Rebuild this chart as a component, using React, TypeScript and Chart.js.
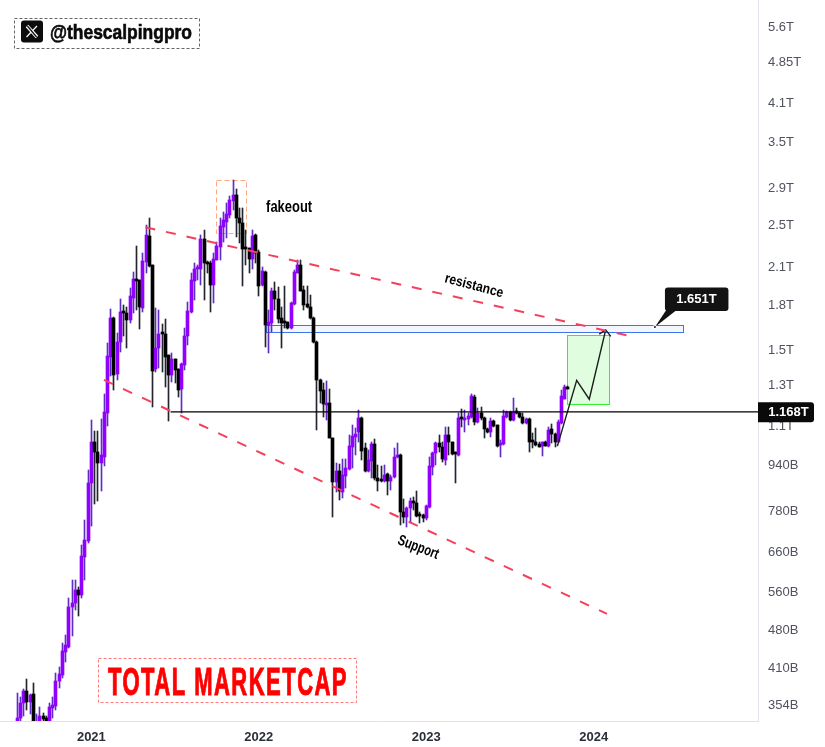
import {useEffect, useRef} from "react";
import Chart from "chart.js/auto";

// weekly candles of the total market cap, in billions
const opens = [
  327,336,357,375,359,370,322,325,339,336,
  328,350,353,390,400,440,448,527,536,566,
  553,648,691,873,1032,993,950,973,1164,1463,
  1712,1363,1550,1755,1747,1698,1860,2004,1999,1783,
  2148,2392,2120,1392,1513,1610,1604,1472,1358,1447,
  1392,1282,1414,1590,1757,1991,2088,2090,2360,2143,
  2140,1955,2168,2288,2483,2535,2608,2757,2825,2572,
  2520,2272,2272,2177,2400,2236,1960,2068,1664,1680,
  1911,1847,1710,1682,1682,1644,1812,2060,2120,1919,
  1812,1793,1710,1555,1330,1277,1201,1210,1049,877,
  918,844,901,925,1014,1056,1076,1140,1007,918,
  957,1025,891,885,881,906,881,895,972,980,
  778,760,790,812,806,768,768,757,793,934,
  987,1029,1012,960,1063,1032,987,980,1140,1130,
  1135,1143,1242,1121,1164,1140,1089,1078,1124,1106,
  1021,1025,1145,1166,1130,1169,1164,1145,1117,1133,
  1042,1034,1025,1017,1034,1018,1091,1068,1035,1117,
  1231,1294,
];
const highs = [
  372,365,378,393,370,387,341,351,342,339,
  357,366,403,413,456,470,547,590,589,572,
  680,752,922,1130,1081,1081,1135,1257,1544,1775,
  1720,1610,1853,1805,1793,1932,2068,2298,1999,2231,
  2500,2572,2125,1780,1769,1672,1703,1472,1487,1450,
  1392,1425,1644,1830,2054,2140,2125,2400,2450,2160,
  2155,2231,2336,2575,2640,2730,2812,3003,2892,2675,
  2675,2450,2280,2450,2410,2258,2110,2072,1769,1932,
  1984,1940,1793,1947,1686,1830,2082,2168,2168,1947,
  1947,1880,1720,1560,1335,1313,1326,1281,1052,947,
  944,963,963,1063,1107,1092,1177,1145,1028,1000,
  1035,1045,941,938,941,912,903,1007,1028,985,
  818,792,824,827,847,778,770,799,973,993,
  1035,1063,1035,1098,1098,1035,990,1164,1180,1177,
  1162,1257,1252,1185,1193,1143,1092,1138,1130,1108,
  1042,1177,1174,1174,1235,1185,1169,1162,1141,1138,
  1072,1095,1031,1035,1036,1098,1113,1072,1130,1277,
  1305,1297,
];
const lows = [
  318,330,339,347,341,316,310,315,325,322,
  324,336,347,380,395,421,446,468,522,509,
  548,590,685,733,802,813,847,937,1103,1349,
  1277,1330,1493,1590,1513,1680,1747,1769,1637,1757,
  2060,2110,1193,1376,1398,1373,1295,1127,1321,1313,
  1243,1162,1386,1535,1750,1842,1999,1960,1842,2054,
  1757,1820,2168,2168,2336,2370,2572,2658,2384,2320,
  1947,2125,2054,2090,2140,1872,1947,1524,1487,1620,
  1769,1676,1513,1642,1636,1636,1805,2054,1910,1769,
  1783,1706,1544,1085,1211,1145,1130,1049,762,844,
  816,822,856,922,928,980,1035,960,915,916,
  891,885,846,879,879,833,850,891,967,737,
  742,730,742,783,762,743,746,752,790,903,
  941,993,953,941,980,980,873,977,1098,1074,
  1107,1138,1107,1117,1130,1049,1072,1056,1100,1014,
  973,1021,1138,1126,1125,1158,1138,1113,1113,993,
  1007,1017,1012,976,1016,1014,1028,1014,1031,1111,
  1229,1282,
];
const closes = [
  336,357,375,359,368,325,326,339,334,328,
  351,354,391,401,441,452,528,536,566,553,
  650,693,873,1032,993,950,979,1168,1467,1712,
  1358,1555,1755,1745,1698,1872,2004,1994,1788,2160,
  2400,2116,1382,1513,1604,1601,1459,1358,1447,1386,
  1277,1419,1592,1762,1999,2090,2095,2360,2143,2132,
  1955,2174,2294,2490,2552,2612,2768,2825,2575,2520,
  2264,2264,2177,2392,2231,1952,2074,1664,1686,1911,
  1847,1705,1676,1676,1644,1816,2068,2125,1914,1805,
  1788,1710,1550,1330,1273,1205,1210,1052,879,918,
  846,903,928,1017,1059,1068,1140,997,918,960,
  1025,891,881,881,903,881,897,972,977,778,
  762,790,811,806,765,765,757,795,937,987,
  1029,1012,964,1063,1032,984,983,1140,1133,1137,
  1149,1245,1121,1164,1138,1088,1078,1124,1103,1017,
  1028,1149,1166,1130,1169,1162,1143,1117,1133,1035,
  1031,1020,1014,1034,1018,1085,1066,1035,1120,1247,
  1294,1284,
];

const yearWeeks = [23, 75, 127, 179];
const yearLabels = ["2021", "2022", "2023", "2024"];
const priceTicks = [5600, 4850, 4100, 3500, 2900, 2500, 2100, 1800, 1500, 1300, 1100, 940, 780, 660, 560, 480, 410, 354];

// drawn lines, as [week, value]
const resistanceLine = [[39.8, 2477], [189.5, 1594]];
const supportLine = [[26.9, 1330], [183.1, 513]];
const levelLine = [[47.6, 1168], [230, 1168]];
const projectionLine = [[167.7, 1016], [173.7, 1328], [177.6, 1230], [182.7, 1631]];
const arrowHead = [[180.7, 1603], [182.7, 1631], [184.3, 1588]];

// boxes: week from, week to, value top, value bottom
const zones = [
  {x0: 77.2, x1: 206.8, top: 1662, bottom: 1616, stroke: "#3f74ee", fill: "rgba(225,232,255,0.4)", dash: []},
  {x0: 170.8, x1: 183.9, top: 1596, bottom: 1205, stroke: "#33ee33", fill: "#e0fde0", dash: []},
  {x0: 61.8, x1: 71.2, top: 3003, bottom: 2417, stroke: "#ffa87f", fill: "transparent", dash: [5, 3]},
];

const notes = [
  {text: "fakeout", week: 84.4, value: 2680, angle: 0, width: 46, size: 16},
  {text: "resistance", week: 141.8, value: 1950, angle: 0.26, width: 60, size: 14},
  {text: "Support", week: 124.5, value: 672, angle: 0.365, width: 43, size: 15},
];

const calloutWeek = 198;
const calloutValue = 1651;
const calloutText = "1.651T";
const levelValue = 1168;
const levelText = "1.168T";

const UP = "#9100ff";
const DOWN = "#000000";
const UP_WICK = "#5f2cc4";
const DOWN_WICK = "#23262f";
const SANS = '"Liberation Sans", Arial, sans-serif';

const xy = (pts: number[][]) => pts.map(([x, y]) => ({x, y}));

const lineSet = (data: number[][], color: string, width: number, dash: number[] = []) => ({
  type: "line" as const,
  data: xy(data),
  borderColor: color,
  borderWidth: width,
  borderDash: dash,
  pointRadius: 0,
  tension: 0,
  fill: false,
  order: 0,
});

const roundBox = (ctx: CanvasRenderingContext2D, x: number, y: number, w: number, h: number, r: number | number[]) => {
  ctx.beginPath();
  ctx.roundRect(x, y, w, h, r);
  ctx.fill();
};

// snap candles to whole pixels so bodies stay solid instead of blurring
const snapPlugin = {
  id: "snap",
  afterDatasetsUpdate(chart: any) {
    chart.getSortedVisibleDatasetMetas().forEach((meta: any) => {
      if (meta.type !== "bar") return;
      meta.data.forEach((bar: any) => {
        bar.x = Math.floor(bar.x) + 0.5;
        bar.y = Math.round(bar.y);
        bar.base = Math.round(bar.base);
      });
    });
  },
};

// zones sit under the candles
const zonesPlugin = {
  id: "zones",
  beforeDatasetsDraw(chart: any) {
    const {ctx, scales} = chart;
    ctx.save();
    zones.forEach((z) => {
      const x = Math.round(scales.x.getPixelForValue(z.x0)) + 0.5;
      const y = Math.round(scales.y.getPixelForValue(z.top)) + 0.5;
      const w = Math.round(scales.x.getPixelForValue(z.x1) - x);
      const h = Math.round(scales.y.getPixelForValue(z.bottom) - y);
      ctx.fillStyle = z.fill;
      ctx.fillRect(x, y, w, h);
      ctx.strokeStyle = z.stroke;
      ctx.lineWidth = 1;
      ctx.setLineDash(z.dash);
      ctx.strokeRect(x, y, w, h);
    });
    ctx.restore();
  },
};

// text, callout and the two watermark boxes
const labelsPlugin = {
  id: "labels",
  afterDraw(chart: any) {
    const {ctx, scales} = chart;
    ctx.save();

    notes.forEach((n) => {
      ctx.save();
      ctx.translate(scales.x.getPixelForValue(n.week), scales.y.getPixelForValue(n.value));
      ctx.rotate(n.angle);
      ctx.font = `bold ${n.size}px ${SANS}`;
      ctx.fillStyle = "#000000";
      ctx.textAlign = "center";
      ctx.textBaseline = "middle";
      ctx.fillText(n.text, 0, 0, n.width);
      ctx.restore();
    });

    // 1.651T callout
    const tipX = scales.x.getPixelForValue(calloutWeek);
    const tipY = scales.y.getPixelForValue(calloutValue);
    ctx.fillStyle = "#131313";
    ctx.beginPath();
    ctx.moveTo(tipX, tipY);
    ctx.lineTo(tipX + 12, tipY - 18);
    ctx.lineTo(tipX + 23, tipY - 18);
    ctx.closePath();
    ctx.fill();
    roundBox(ctx, tipX + 10, tipY - 39.5, 63.5, 23.5, 3);
    ctx.fillStyle = "#ffffff";
    ctx.beginPath();
    ctx.arc(tipX, tipY, 2, 0, Math.PI * 2);
    ctx.fill();
    ctx.fillStyle = "#131313";
    ctx.beginPath();
    ctx.arc(tipX, tipY, 1, 0, Math.PI * 2);
    ctx.fill();
    ctx.fillStyle = "#ffffff";
    ctx.font = `bold 13px ${SANS}`;
    ctx.textAlign = "center";
    ctx.textBaseline = "middle";
    ctx.fillText(calloutText, tipX + 41.5, tipY - 27.5);

    // price label of the level line
    const levelY = scales.y.getPixelForValue(levelValue);
    ctx.fillStyle = "#0a0a0a";
    roundBox(ctx, 758, levelY - 9.5, 56, 20, [0, 3, 3, 0]);
    ctx.fillStyle = "#ffffff";
    ctx.fillText(levelText, 788.5, levelY + 0.5);

    // handle box
    ctx.strokeStyle = "#666666";
    ctx.lineWidth = 1;
    ctx.setLineDash([3, 2]);
    ctx.strokeRect(14.5, 18.5, 185, 30);
    ctx.setLineDash([]);
    ctx.fillStyle = "#0c0c0c";
    roundBox(ctx, 21, 20.5, 22, 22, 3);
    ctx.lineCap = "butt";
    ctx.strokeStyle = "#ffffff";
    ctx.lineWidth = 3.4;
    ctx.beginPath();
    ctx.moveTo(27, 26);
    ctx.lineTo(37, 37);
    ctx.stroke();
    ctx.lineWidth = 1.2;
    ctx.beginPath();
    ctx.moveTo(26.5, 37);
    ctx.lineTo(37, 26);
    ctx.stroke();
    ctx.strokeStyle = "#0c0c0c";
    ctx.lineWidth = 1.2;
    ctx.beginPath();
    ctx.moveTo(27.4, 26);
    ctx.lineTo(36.6, 37);
    ctx.stroke();
    ctx.fillStyle = "#0a0a0a";
    ctx.strokeStyle = "#0a0a0a";
    ctx.lineWidth = 0.6;
    ctx.font = `bold 20px ${SANS}`;
    ctx.textAlign = "left";
    ctx.textBaseline = "alphabetic";
    ctx.fillText("@thescalpingpro", 50, 39, 142);
    ctx.strokeText("@thescalpingpro", 50, 39, 142);

    // title box
    ctx.strokeStyle = "#ff7a7a";
    ctx.lineWidth = 1;
    ctx.setLineDash([3, 2]);
    ctx.strokeRect(98.5, 658.5, 258, 44);
    ctx.setLineDash([]);
    ctx.fillStyle = "#ff0000";
    ctx.strokeStyle = "#ff0000";
    ctx.lineWidth = 1;
    ctx.font = `bold 38px ${SANS}`;
    (ctx as any).letterSpacing = "2.5px";
    ctx.fillText("TOTAL MARKETCAP", 108, 695, 240);
    ctx.strokeText("TOTAL MARKETCAP", 108, 695, 240);
    (ctx as any).letterSpacing = "0px";

    ctx.restore();
  },
};

const App = () => {
  const canvasRef = useRef<HTMLCanvasElement | null>(null);

  useEffect(() => {
    if (!canvasRef.current) return;
    document.body.style.margin = "0";
    const rising = closes.map((c, i) => c >= opens[i]);

    const chart = new Chart(canvasRef.current, {
      type: "bar",
      data: {
        datasets: [
          lineSet(resistanceLine, "#f5405c", 2, [10, 11]),
          lineSet(supportLine, "#f5405c", 2, [10, 11]),
          lineSet(levelLine, "#000000", 1.4),
          lineSet(projectionLine, "#1c1c1c", 1.4),
          lineSet(arrowHead, "#1c1c1c", 1.4),
          {
            // candle bodies
            data: opens.map((o, i) => ({x: i, y: [o, closes[i]]})),
            backgroundColor: rising.map((up) => (up ? UP : DOWN)),
            barThickness: 3,
            minBarLength: 2,
            grouped: false,
            order: 1,
          },
          {
            // wicks
            data: lows.map((l, i) => ({x: i, y: [l, highs[i]]})),
            backgroundColor: rising.map((up) => (up ? UP_WICK : DOWN_WICK)),
            barThickness: 1,
            grouped: false,
            order: 2,
          },
        ] as any,
      },
      options: {
        animation: false,
        responsive: false,
        layout: {padding: 0},
        plugins: {
          legend: {display: false},
          tooltip: {enabled: false},
        },
        scales: {
          x: {
            type: "linear",
            offset: false,
            min: -5.37,
            max: 230,
            grid: {display: false, drawTicks: false},
            border: {display: true, color: "#e0e3eb", width: 1},
            afterBuildTicks: (axis: any) => {
              axis.ticks = yearWeeks.map((value) => ({value}));
            },
            afterFit: (axis: any) => {
              axis.height = 26;
              axis.paddingLeft = 0;
              axis.paddingRight = 0;
            },
            ticks: {
              autoSkip: false,
              maxRotation: 0,
              padding: 9,
              color: "#2a2e39",
              font: {family: SANS, size: 13, weight: "bold"},
              callback: (value: any) => yearLabels[yearWeeks.indexOf(Number(value))],
            },
          },
          y: {
            type: "logarithmic",
            position: "right",
            min: 331.6,
            max: 6251,
            grid: {display: false, drawTicks: false},
            border: {display: true, color: "#e0e3eb", width: 1},
            afterBuildTicks: (axis: any) => {
              axis.ticks = priceTicks.map((value) => ({value}));
            },
            afterFit: (axis: any) => {
              axis.width = 67;
              axis.paddingTop = 0;
              axis.paddingBottom = 0;
            },
            ticks: {
              autoSkip: false,
              padding: 10,
              color: "#50535e",
              font: {family: SANS, size: 13},
              callback: (value: any) => (value >= 1000 ? `${value / 1000}T` : `${value}B`),
            },
          },
        },
      } as any,
      plugins: [snapPlugin, zonesPlugin, labelsPlugin],
    });

    return () => chart.destroy();
  }, []);

  return (
    <div style={{position: "absolute", left: 0, top: 0, width: 825, height: 747}}>
      <canvas ref={canvasRef} width={825} height={747} style={{display: "block"}} />
    </div>
  );
};

export default App;
